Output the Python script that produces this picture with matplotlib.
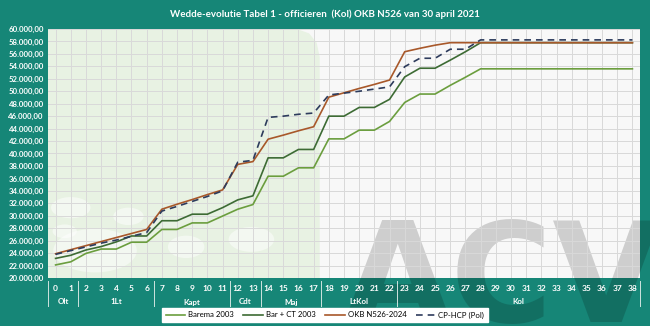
import numpy as np
import matplotlib.pyplot as plt
from matplotlib.patches import Ellipse, Polygon, Rectangle
from matplotlib.lines import Line2D

# salary per year of service (0..38)
years = list(range(39))
barema_2003 = [22100, 22600, 23950, 24650, 24650, 25750, 25750, 27800, 27800, 28850,
               28850, 29950, 31050, 31800, 36350, 36350, 37700, 37700, 42350, 42350,
               43750, 43750, 45150, 48200, 49550, 49550, 50950, 52250, 53600, 53600,
               53600, 53600, 53600, 53600, 53600, 53600, 53600, 53600, 53600]
bar_ct_2003 = [23150, 23650, 24500, 25050, 25800, 26750, 26750, 29200, 29200, 30250,
               30250, 31300, 32550, 33200, 39300, 39300, 40650, 40650, 46000, 46000,
               47400, 47400, 48700, 52300, 53700, 53700, 55000, 56350, 57800, 57800,
               57800, 57800, 57800, 57800, 57800, 57800, 57800, 57800, 57800]
okb_n526 = [23900, 24550, 25200, 25850, 26500, 27150, 27800, 31050, 31850, 32600,
            33400, 34150, 38250, 38700, 42300, 42950, 43650, 44300, 49050, 49750,
            50450, 51100, 51800, 56350, 56900, 57400, 57800, 57800, 57800, 57800,
            57800, 57800, 57800, 57800, 57800, 57800, 57800, 57800, 57800]
cp_hcp = [23800, 24400, 25000, 25600, 26100, 26700, 27300, 30750, 31500, 32300,
          33100, 34000, 38600, 38900, 45800, 46000, 46300, 46500, 49400, 49700,
          50000, 50350, 50700, 53950, 55300, 55300, 56750, 56750, 58250, 58250,
          58250, 58250, 58250, 58250, 58250, 58250, 58250, 58250, 58250]

# rank groups: (label, first year, last year)
ranks = [("Olt", 0, 1), ("1Lt", 2, 6), ("Kapt", 7, 11), ("Cdt", 12, 13),
         ("Maj", 14, 17), ("LtKol", 18, 22), ("Kol", 23, 38)]

teal = "#168677"
plt.rcParams["font.family"] = ["Lato", "DejaVu Sans"]

W, H = 650, 326
fig = plt.figure(figsize=(6.5, 3.26), dpi=100, facecolor=teal)

def fx(px):
    return px / W

def fy(py):
    return 1 - py / H

# plot-area background sits below the watermark, the axes stay transparent
fig.patches.append(Rectangle((fx(48), fy(278)), fx(640) - fx(48), fy(29) - fy(278),
                             transform=fig.transFigure, facecolor="#f8f8f8",
                             edgecolor="none", zorder=-3))
fig.text(fx(343), fy(322), "ACV", ha="left", va="baseline", color="black",
         alpha=0.17, fontsize=100, fontweight="bold",
         family="DejaVu Sans", zorder=-2)

ax = fig.add_axes([fx(48), fy(278), fx(640) - fx(48), fy(29) - fy(278)])
ax.set_facecolor("none")
ax.set_xlim(-0.5, 38.5)
ax.set_ylim(20000, 60000)

# green backdrop on the left part of the plot
green = Polygon([(-0.5, 20000), (-0.5, 60000), (15.9, 60000), (16.7, 59300),
                 (17.2, 57800), (17.4, 55500), (17.4, 20000)],
                closed=True, facecolor="#e8f2e3", edgecolor="none", zorder=0)
ax.add_patch(green)
for cx, cy, w, h in [(1.0, 31300, 2.6, 3400), (4.8, 29900, 2.0, 2800),
                     (2.6, 24400, 5.5, 7000), (8.6, 25000, 2.4, 3600),
                     (12.9, 26200, 3.0, 4000), (0.6, 27500, 1.6, 2200)]:
    ax.add_patch(Ellipse((cx, cy), w, h, facecolor="white", alpha=0.5,
                         edgecolor="none", zorder=0.5))

ax.set_yticks(np.arange(20000, 60001, 2000))
ax.set_xticks(years)
ax.grid(True, color="#d9d9d9", linewidth=0.7, zorder=1)
ax.set_axisbelow(True)
for s in ax.spines.values():
    s.set_visible(False)
ax.tick_params(length=0)
ax.set_yticklabels([f"{v:,.2f}".replace(",", "X").replace(".", ",").replace("X", ".")
                    for v in range(20000, 60001, 2000)],
                   color="white", fontsize=5.6, fontweight="bold")
ax.tick_params(axis="y", pad=3)
ax.set_xticklabels([str(y) for y in years], color="white", fontsize=6,
                   fontweight="bold")
ax.tick_params(axis="x", pad=5)

ax.plot(years, barema_2003, color="#6b9e3e", lw=1.2, zorder=3, label="Barema 2003")
ax.plot(years, bar_ct_2003, color="#3d6b34", lw=1.2, zorder=3, label="Bar + CT 2003")
ax.plot(years, okb_n526, color="#a8582a", lw=1.2, zorder=3, label="OKB N526-2024")
ax.plot(years, cp_hcp, color="#2d3b5c", lw=1.2, ls=(0, (4, 3)), zorder=4,
        label="CP-HCP (Pol)")

# rank labels and separators under the year numbers
trans = ax.get_xaxis_transform()
ybot = -(302 - 278) / (278 - 29)
for name, a, b in ranks:
    ax.text((a + b) / 2, ybot, name, transform=trans, ha="center", va="center",
            color="white", fontsize=5.8, fontweight="bold", clip_on=False)
for xs in [-0.5, 1.5, 6.5, 11.5, 13.5, 17.5, 22.5, 38.5]:
    ax.add_line(Line2D([xs, xs], [-(281 - 278) / 249, -(306 - 278) / 249],
                       transform=trans, color="#cfe3df", lw=0.7, clip_on=False))

fig.text(fx(325), fy(14), "Wedde-evolutie Tabel 1 - officieren  (Kol) OKB N526 van 30 april 2021",
         ha="center", va="center", color="white", fontsize=7.0, fontweight="bold")

leg = fig.legend(loc="center", bbox_to_anchor=(fx(325), fy(315)), ncol=4,
                 fontsize=5.6, frameon=True, fancybox=False, handlelength=2.5,
                 columnspacing=1.2, borderpad=0.45, handletextpad=0.4)
leg.get_frame().set_facecolor("white")
leg.get_frame().set_edgecolor("white")
leg.get_frame().set_alpha(1)
leg.set_zorder(5)

fig.savefig("out.png", dpi=100, facecolor=teal)
